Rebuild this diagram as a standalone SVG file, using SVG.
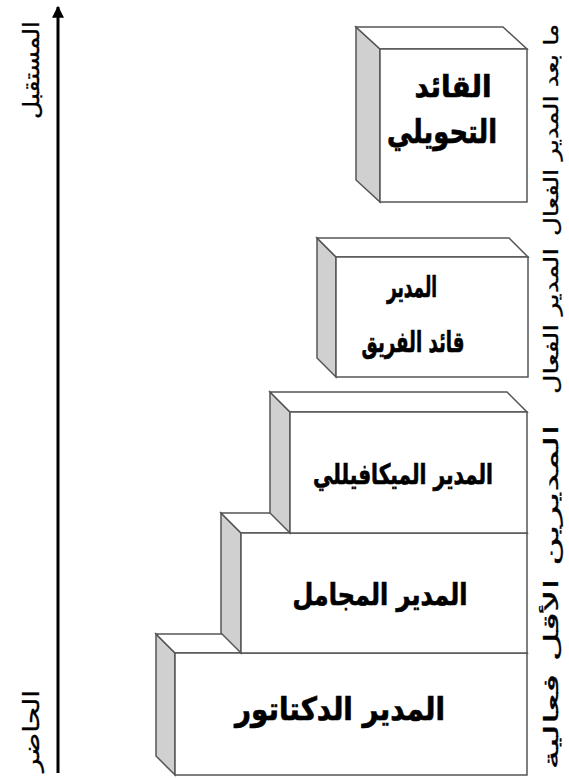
<svg xmlns="http://www.w3.org/2000/svg" width="569" height="778" viewBox="0 0 569 778">
<defs>
<style>
.edge{stroke:#555;stroke-width:1.5;stroke-linejoin:miter}
.front{fill:#fff}
.side{fill:#d0d0d0}
.top{fill:#fff}
.bt{font-family:"DejaVu Sans",sans-serif;font-weight:bold;fill:#000;stroke:#000;stroke-width:0.7;text-anchor:middle}
.lbl{font-family:"DejaVu Sans",sans-serif;fill:#000;stroke:#000;stroke-width:0.3;text-anchor:middle;font-size:20px}
</style>
<marker id="ah" viewBox="0 0 10 10" refX="9" refY="5" markerWidth="4" markerHeight="4" orient="auto" markerUnits="strokeWidth">
<path d="M0,0 L10,5 L0,10 z" fill="#000"/>
</marker>
</defs>
<rect width="569" height="778" fill="#fff"/>

<g id="connectors">
<line x1="58" y1="773" x2="58" y2="7" stroke="#000" stroke-width="3" marker-end="url(#ah)"/>
</g>

<g id="axis-labels">
<text class="lbl" style="font-size:22px" transform="translate(39,70) rotate(-90)" textLength="98" lengthAdjust="spacingAndGlyphs">المستقبل</text>
<text class="lbl" style="font-size:22px" transform="translate(39,731) rotate(-90)" textLength="82" lengthAdjust="spacingAndGlyphs">الحاضر</text>
</g>

<g id="box5">
<polygon class="side edge" points="156,634 175,653 175,775 156,756"/>
<polygon class="top edge" points="156,634 508,634 527,653 175,653"/>
<rect class="front edge" x="175" y="653" width="352" height="122"/>
<text class="bt" x="340" y="720" font-size="32" textLength="210" lengthAdjust="spacingAndGlyphs">المدير الدكتاتور</text>
</g>

<g id="box4">
<polygon class="side edge" points="221,513 241,533 241,653 221,633"/>
<polygon class="top edge" points="221,513 507,513 527,533 241,533"/>
<rect class="front edge" x="241" y="533" width="286" height="120"/>
<text class="bt" x="380" y="605" font-size="30" textLength="175" lengthAdjust="spacingAndGlyphs">المدير المجامل</text>
</g>

<g id="box3">
<polygon class="side edge" points="270,392 290,412 290,533 270,513"/>
<polygon class="top edge" points="270,392 507,392 527,412 290,412"/>
<rect class="front edge" x="290" y="412" width="237" height="121"/>
<text class="bt" x="403" y="484" font-size="28" textLength="180" lengthAdjust="spacingAndGlyphs">المدير الميكافيللي</text>
</g>

<g id="box2">
<polygon class="side edge" points="317,238 336,257 336,377 317,358"/>
<polygon class="top edge" points="317,238 509,238 528,257 336,257"/>
<rect class="front edge" x="336" y="257" width="192" height="120"/>
<text class="bt" x="412" y="297" font-size="29" textLength="50" lengthAdjust="spacingAndGlyphs">المدير</text>
<text class="bt" x="413" y="352" font-size="29" textLength="103" lengthAdjust="spacingAndGlyphs">قائد الفريق</text>
</g>

<g id="box1">
<polygon class="side edge" points="356,27 380,49 380,202 356,180"/>
<polygon class="top edge" points="356,27 503,27 527,49 380,49"/>
<rect class="front edge" x="380" y="49" width="147" height="153"/>
<text class="bt" x="453" y="97" font-size="30" textLength="77" lengthAdjust="spacingAndGlyphs">القائد</text>
<text class="bt" x="442" y="143" font-size="33" textLength="110" lengthAdjust="spacingAndGlyphs">التحويلي</text>
</g>

<g id="side-labels">
<text class="lbl" transform="translate(558,130) rotate(-90)" textLength="212" lengthAdjust="spacingAndGlyphs">ما بعد المدير الفعال</text>
<text class="lbl" transform="translate(558,321) rotate(-90)" textLength="146" lengthAdjust="spacingAndGlyphs">المدير الفعال</text>
<text class="lbl" transform="translate(558,597) rotate(-90)" textLength="345" lengthAdjust="spacingAndGlyphs">المديرين الأقل فعالية</text>
</g>
</svg>
